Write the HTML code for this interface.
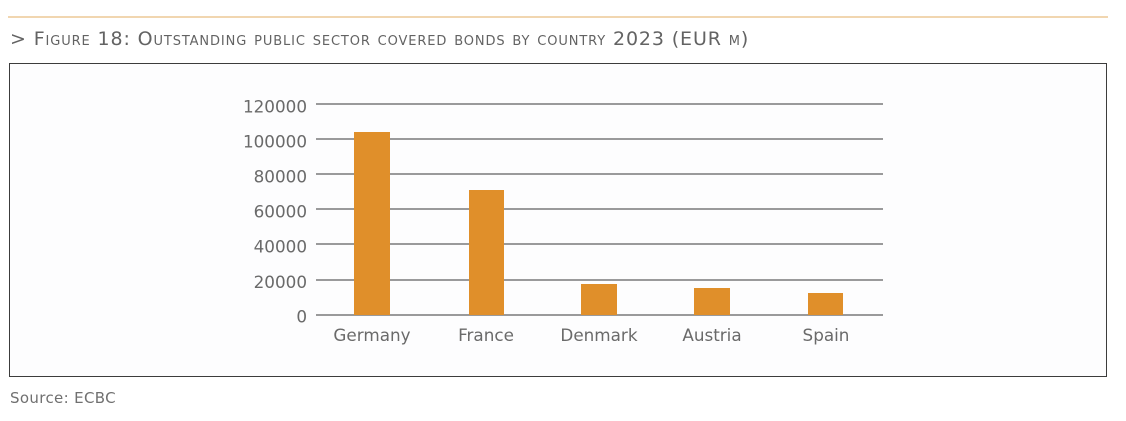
<!DOCTYPE html>
<html>
<head>
<meta charset="utf-8">
<style>
  html,body{margin:0;padding:0;background:#ffffff;}
  body{width:1126px;height:421px;position:relative;overflow:hidden;font-family:"DejaVu Sans","Liberation Sans",sans-serif;}
  .topline{position:absolute;left:8px;top:16px;width:1100px;height:2px;background:#f1d6b0;}
  .title{position:absolute;left:10px;top:28px;font-size:19px;color:#636363;font-variant:small-caps;white-space:nowrap;letter-spacing:0.88px;}
  .box{position:absolute;left:9px;top:63px;width:1096px;height:312px;border:1px solid #3c3c3c;background:#fdfdfe;}
  .src{position:absolute;left:10px;top:389px;font-size:15px;color:#707070;white-space:nowrap;letter-spacing:0.35px;}
  svg{position:absolute;left:0;top:0;}
</style>
</head>
<body>
<div class="topline"></div>
<div class="title">&gt; Figure 18: Outstanding public sector covered bonds by country 2023 (EUR m)</div>
<div class="box"></div>
<svg width="1126" height="421" viewBox="0 0 1126 421">
  <g stroke="#7a7a7a" stroke-width="1.5">
    <line x1="316" y1="104" x2="883" y2="104"/>
    <line x1="316" y1="139" x2="883" y2="139"/>
    <line x1="316" y1="174" x2="883" y2="174"/>
    <line x1="316" y1="209" x2="883" y2="209"/>
    <line x1="316" y1="244" x2="883" y2="244"/>
    <line x1="316" y1="280" x2="883" y2="280"/>
    <line x1="316" y1="315" x2="883" y2="315"/>
  </g>
  <g fill="#e08f2a">
    <rect x="354" y="132" width="36" height="183"/>
    <rect x="469" y="190" width="35" height="125"/>
    <rect x="581" y="284" width="36" height="31"/>
    <rect x="694" y="288" width="36" height="27"/>
    <rect x="808" y="293" width="35" height="22"/>
  </g>
  <g font-family="DejaVu Sans, Liberation Sans, sans-serif" font-size="16.8" fill="#6a6a6a" text-anchor="end">
    <text x="307" y="112.5">120000</text>
    <text x="307" y="147.5">100000</text>
    <text x="307" y="182.5">80000</text>
    <text x="307" y="217.5">60000</text>
    <text x="307" y="252.5">40000</text>
    <text x="307" y="288">20000</text>
    <text x="307" y="322.5">0</text>
  </g>
  <g font-family="DejaVu Sans, Liberation Sans, sans-serif" font-size="16.8" fill="#6a6a6a" text-anchor="middle">
    <text x="372" y="341">Germany</text>
    <text x="486" y="341">France</text>
    <text x="599" y="341">Denmark</text>
    <text x="712" y="341">Austria</text>
    <text x="826" y="341">Spain</text>
  </g>
</svg>
<div class="src">Source: ECBC</div>
</body>
</html>
